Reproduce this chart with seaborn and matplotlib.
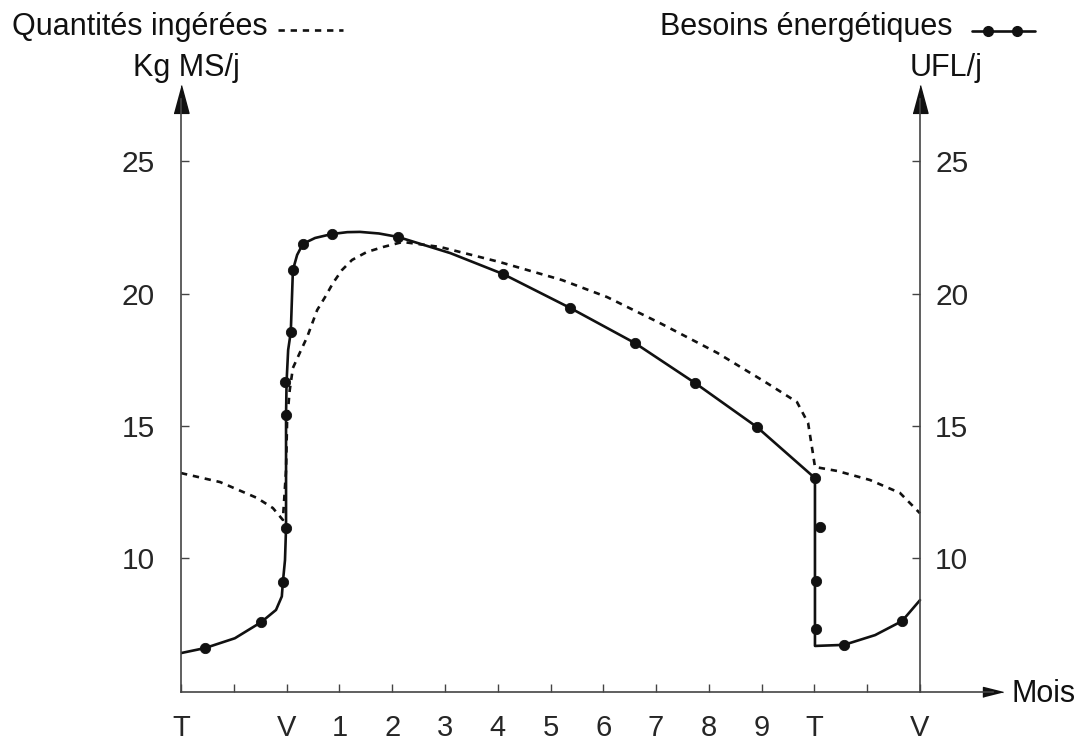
import matplotlib
matplotlib.use("Agg")
import matplotlib.pyplot as plt
from matplotlib.lines import Line2D
import pandas as pd
import seaborn as sns

W, H = 1087, 745

# month axis: 0 = T, 2 = V, 3..11 = months 1..9, 12 = T, 14 = V
month_ticks = list(range(15))
month_labels = ["T", "", "V", "1", "2", "3", "4", "5", "6", "7", "8", "9", "T", "", "V"]
y_ticks = [10, 15, 20, 25]

# Besoins énergétiques (UFL/j), solid curve
besoins_x = [0.0, 0.455, 1.02, 1.52, 1.80, 1.91, 1.93, 1.97, 1.99, 1.99, 2.00, 2.03,
             2.08, 2.12, 2.20, 2.31, 2.54, 2.86, 3.15, 3.39, 3.75, 4.11, 5.10, 6.10, 7.37, 8.60,
             9.74, 10.91, 12.01, 12.01, 12.56, 13.15, 13.66, 14.0]
besoins_y = [6.42, 6.61, 6.98, 7.59, 8.05, 8.56, 9.10, 9.93, 11.14, 15.41, 16.66, 17.87,
             18.55, 20.89, 21.46, 21.88, 22.10, 22.25, 22.32, 22.33, 22.27, 22.14, 21.53, 20.74, 19.46, 18.13,
             16.62, 14.96, 13.03, 6.69, 6.73, 7.10, 7.63, 8.42]

# points marked on the besoins curve
points_x = [0.455, 1.52, 1.93, 1.99, 1.99, 1.97, 2.08, 2.12, 2.31, 2.86, 4.11, 6.10,
            7.37, 8.60, 9.74, 10.91, 12.01, 12.10, 12.03, 12.03, 12.56, 13.66]
points_y = [6.61, 7.59, 9.10, 11.14, 15.41, 16.66, 18.55, 20.89, 21.88, 22.25, 22.14, 20.74,
            19.46, 18.13, 16.62, 14.96, 13.03, 11.18, 9.14, 7.33, 6.73, 7.63]

# Quantités ingérées (kg MS/j), dashed curve
ingere_x = [0.0, 0.74, 1.44, 1.74, 1.93, 1.99, 2.01, 2.06, 2.12, 2.25, 2.39, 2.58,
            2.73, 2.88, 3.05, 3.24, 3.52, 3.83, 4.20, 4.91, 6.04, 7.22, 8.07, 9.07,
            10.16, 11.10, 11.67, 11.88, 11.97, 12.01, 12.43, 13.05, 13.62, 14.0]
ingere_y = [13.22, 12.88, 12.28, 11.90, 11.45, 13.33, 15.22, 16.36, 17.19, 17.76, 18.36, 19.38,
            19.87, 20.40, 20.89, 21.27, 21.57, 21.76, 21.95, 21.76, 21.19, 20.51, 19.87, 18.89,
            17.76, 16.62, 15.90, 15.11, 13.98, 13.45, 13.30, 12.96, 12.47, 11.70]

besoins = pd.DataFrame({"mois": besoins_x, "valeur": besoins_y})
points = pd.DataFrame({"mois": points_x, "valeur": points_y})
ingere = pd.DataFrame({"mois": ingere_x, "valeur": ingere_y})

sns.set_style("white")
plt.rcParams["font.family"] = ["Liberation Sans", "DejaVu Sans"]

INK = "#111111"
AXIS = "#444444"
FS = 22


def fx(px):
    return px / W


def fy(py):
    return 1 - py / H


fig = plt.figure(figsize=(W / 100, H / 100), dpi=100)
ax = fig.add_axes([fx(181), fy(692), fx(993) - fx(181), fy(99) - fy(692)])

sns.lineplot(data=ingere, x="mois", y="valeur", ax=ax, estimator=None, sort=False,
             color=INK, lw=1.9, linestyle=(0, (2.4, 2.2)))
sns.lineplot(data=besoins, x="mois", y="valeur", ax=ax, estimator=None, sort=False,
             color=INK, lw=1.9)
sns.scatterplot(data=points, x="mois", y="valeur", ax=ax, s=55, color=INK,
                edgecolor=INK, zorder=5)

ax.set_xlim(0, (993 - 181) / 52.786)
ax.set_ylim(4.95, 27.35)
ax.set_xlabel("")
ax.set_ylabel("")
ax.set_xticks(month_ticks)
ax.set_xticklabels(month_labels)
ax.set_yticks(y_ticks)
ax.tick_params(axis="x", direction="in", length=6, width=1, pad=16, labelsize=21,
               bottom=True, color=AXIS)
ax.tick_params(axis="y", direction="in", length=6, width=1, pad=18.7, labelsize=21.5,
               left=True, color=AXIS)
for side in ["top", "right"]:
    ax.spines[side].set_visible(False)
for side in ["left", "bottom"]:
    ax.spines[side].set_color(AXIS)
    ax.spines[side].set_linewidth(1.2)

# right axis (UFL/j) at month 14
ax2 = ax.twinx()
ax2.set_ylim(ax.get_ylim())
ax2.set_yticks(y_ticks)
ax2.tick_params(axis="y", direction="in", length=6, width=1, pad=10.8, labelsize=21.5,
                right=True, color=AXIS)
for side in ["top", "left", "bottom"]:
    ax2.spines[side].set_visible(False)
ax2.spines["right"].set_position(("data", 14))
ax2.spines["right"].set_color(AXIS)
ax2.spines["right"].set_linewidth(1.2)

# arrow heads
up_arrow = [(-0.54, -1), (0.54, -1), (0, 1)]
right_arrow = [(1, 0), (-1, 0.5), (-1, -0.5)]
ax.plot([0, 14], [1, 1], transform=ax.get_xaxis_transform(), marker=up_arrow,
        ls="none", ms=20, color=INK, clip_on=False)
ax.plot([1], [0], transform=ax.transAxes, marker=right_arrow, ls="none", ms=14.4,
        color=INK, clip_on=False)

# titles and units
fig.text(fx(12), fy(35), "Quantités ingérées", fontsize=FS, va="baseline", color=INK)
fig.text(fx(133), fy(76), "Kg MS/j", fontsize=FS, va="baseline", color=INK)
fig.text(fx(660), fy(35), "Besoins énergétiques", fontsize=FS, va="baseline", color=INK)
fig.text(fx(910), fy(76), "UFL/j", fontsize=FS, va="baseline", color=INK)
fig.text(fx(1011), fy(702), "Mois", fontsize=FS, va="baseline", color=INK)

# legend samples
fig.add_artist(Line2D([fx(278), fx(343)], [fy(30), fy(30)], transform=fig.transFigure,
                      color=INK, lw=1.9, linestyle=(0, (2.4, 2.2))))
fig.add_artist(Line2D([fx(972), fx(1035)], [fy(31), fy(31)], transform=fig.transFigure,
                      color=INK, lw=1.9))
fig.add_artist(Line2D([fx(988), fx(1017)], [fy(31), fy(31)], transform=fig.transFigure,
                      color=INK, ls="none", marker="o", ms=7))

fig.savefig("out.png", dpi=100)
